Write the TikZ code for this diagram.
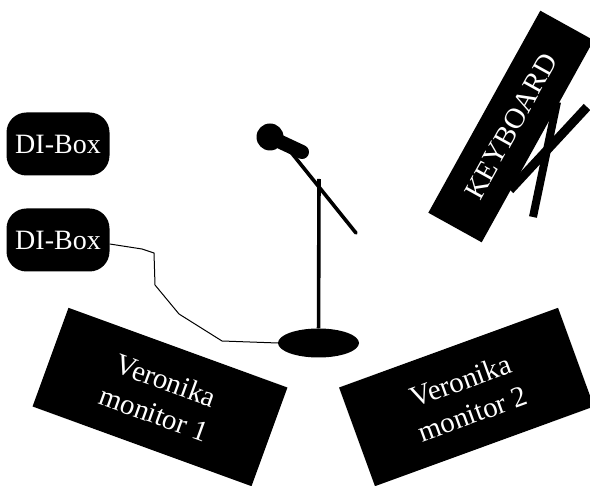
\documentclass[tikz,border=0pt]{standalone}
\usepackage{fontspec}
\setmainfont{Liberation Serif}
\usetikzlibrary{shapes.geometric}
\begin{document}
\begin{tikzpicture}[x=1pt, y=-1pt,
  dibox/.style = {fill=black, text=white, rounded corners=20pt, minimum width=103pt, minimum height=63pt, inner sep=0pt, font=\fontsize{28}{30}\selectfont},
  monitor/.style = {fill=black, text=white, minimum width=233pt, minimum height=105pt, inner sep=0pt, align=center, font=\fontsize{29}{35}\selectfont},
  keyboard/.style = {fill=black, text=white, minimum width=231pt, minimum height=61pt, inner sep=0pt, font=\fontsize{29}{30}\selectfont},
  stand/.style = {line width=3.6pt}]
\useasboundingbox (0,0) rectangle (590,486);

\node[dibox] (box1) at (58,144) {DI-Box};
\node[dibox] (box2) at (58,240) {DI-Box};

\node[monitor, rotate=-20] (mon1) at (160,397) {Veronika\\monitor 1};
\node[monitor, rotate=20] (mon2) at (466.5,397) {Veronika\\monitor 2};

\node[keyboard, rotate=61] (keys) at (511,126.5) {KEYBOARD};
\coordinate (leg1) at (587,107);
\coordinate (leg2) at (510,190);
\coordinate (leg3) at (557,102);
\coordinate (leg4) at (533,217);
\draw[line width=9pt] (leg1) -- (leg2);
\draw[line width=8pt] (leg3) -- (leg4);

\node[ellipse, fill=black, minimum width=81pt, minimum height=29pt, inner sep=0pt] (base) at (318.5,343) {};
\coordinate (top) at (319,179);
\coordinate (boom1) at (286,146);
\coordinate (boom2) at (356,233);
\draw[stand] (top) -- (base);
\draw[stand, line cap=round] (boom1) -- (boom2);
\node[circle, fill=black, minimum size=27pt, inner sep=0pt] (head) at (270,137) {};
\coordinate (grip) at (302,152);
\draw[line width=14pt, line cap=round] (head.center) -- (grip);

\coordinate (c1) at (142,249);
\coordinate (c2) at (154,253);
\coordinate (c3) at (155,285);
\coordinate (c4) at (179,314);
\coordinate (c5) at (222,341);
\draw[line width=1pt] (box2.east) ++(0,4) -- (c1) -- (c2) -- (c3) -- (c4) -- (c5) -- (base.west);
\end{tikzpicture}
\end{document}
